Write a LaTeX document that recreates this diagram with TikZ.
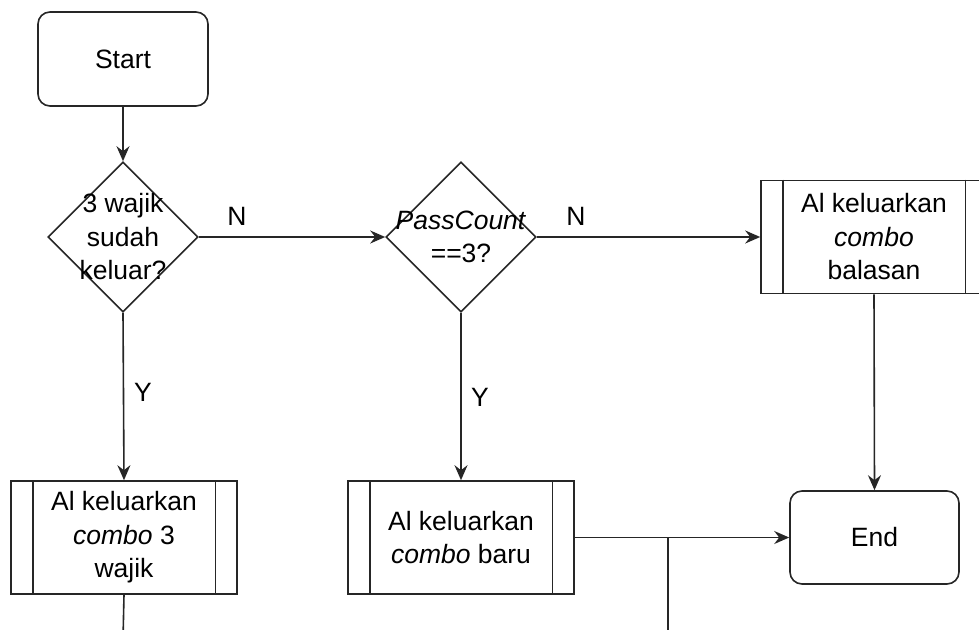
\documentclass[tikz,border=0pt]{standalone}
\usepackage{fontspec}
\setmainfont{Liberation Sans}
\usetikzlibrary{shapes.geometric,arrows.meta}
\begin{document}
\begin{tikzpicture}[x=1pt,y=-1pt,
  every node/.style={font=\fontsize{26.5}{33.5}\selectfont, text=black},
  line/.style={draw=black!85, line width=1.6pt},
  arr/.style={line, -{Stealth[length=15pt,width=13pt,inset=5pt]}},
  term/.style={line, rounded corners=12pt, minimum width=170pt, minimum height=94pt, inner sep=0pt},
  dia/.style={line, diamond, minimum width=150pt, minimum height=150pt, inner sep=0pt},
  proc/.style={line, minimum width=226pt, minimum height=113pt, inner sep=0pt},
  lbl/.style={align=center, inner sep=0pt}
]
\clip (0,0) rectangle (979,629);
\fill[white] (0,0) rectangle (979,629);

\node[term] (start) at (123,59) {Start};
\node[dia] (d1) at (123,237) {};
\node[lbl] at (d1) {3 wajik\\sudah\\keluar?};
\node[dia] (d2) at (461,237) {};
\node[lbl] at (d2) {\textit{PassCount}\\==3?};

\node[proc] (p3) at (874,237) {};
\node[lbl] at (p3) {Al keluarkan\\\textit{combo}\\balasan};
\node[proc] (p1) at (124,537.5) {};
\node[lbl] at (p1) {Al keluarkan\\\textit{combo} 3\\wajik};
\node[proc] (p2) at (461,537.5) {};
\node[lbl] at (p2) {Al keluarkan\\\textit{combo} baru};
\node[term, minimum width=169pt, minimum height=93pt] (end) at (874.5,537.5) {End};

\foreach \p in {p1,p2,p3}{
  \draw[line] ([xshift=22.5pt]\p.north west) -- ([xshift=22.5pt]\p.south west);
  \draw[line] ([xshift=-22.5pt]\p.north east) -- ([xshift=-22.5pt]\p.south east);
}

\coordinate (b1) at (123,640);
\coordinate (j) at (668,537.5);
\coordinate (b2) at (668,640);

\draw[arr] (start) -- (d1);
\draw[arr] (d1.east) -- (d2.west);
\draw[arr] (d2.east) -- (p3.west);
\draw[arr] (d1.south) -- (p1.north);
\draw[arr] (d2.south) -- (p2.north);
\draw[arr] (p3.south) -- (end.north);
\draw[arr] (p2.east) -- (end.west);
\draw[line] (p1.south) -- (b1);
\draw[line] (j) -- (b2);

\node at (237,216) {N};
\node at (576,216) {N};
\node at (143,392) {Y};
\node at (480,397) {Y};
\end{tikzpicture}
\end{document}
